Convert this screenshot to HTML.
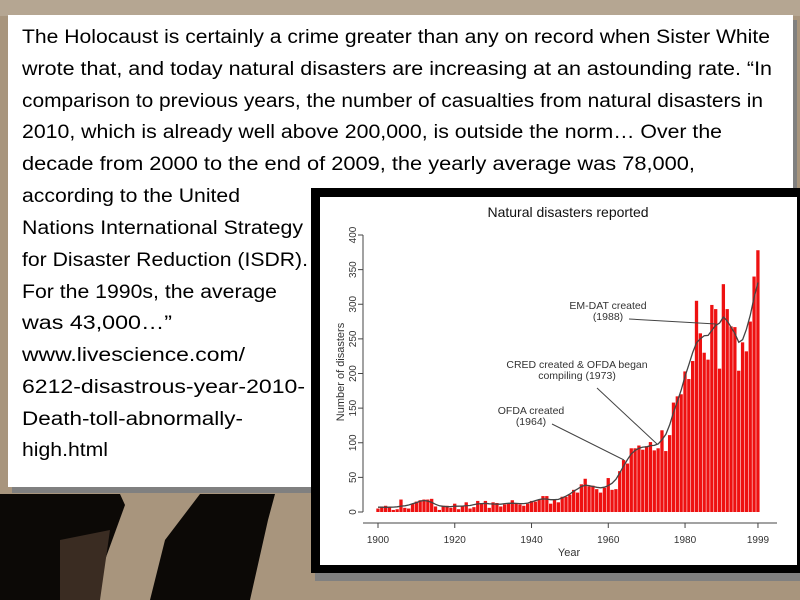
<!DOCTYPE html>
<html><head><meta charset="utf-8"><style>
html,body{margin:0;padding:0;width:800px;height:600px;overflow:hidden;background:#a8957d}
svg{display:block}
</style></head><body>
<svg id="s" width="800" height="600" xmlns="http://www.w3.org/2000/svg">
<rect x="0" y="0" width="800" height="600" fill="#a8957d"/>
<rect x="0" y="0" width="800" height="16" fill="#b5a692"/>
<path d="M0 494 L40 494 L120 494 L125 505 L105 560 L80 600 L0 600 Z" fill="#0c0906"/>
<path d="M60 540 L110 530 L100 600 L60 600Z" fill="#3a2c22"/>
<path d="M200 494 L275 494 L268 520 L250 600 L150 600 L165 540 Z" fill="#0c0906"/>
<!-- text box -->
<rect x="12" y="20" width="785" height="473" fill="#808080"/>
<rect x="8" y="15" width="785" height="472" fill="#fff"/>
<g font-family="Liberation Sans, sans-serif" font-size="19" fill="#000">
<text x="22" y="43" textLength="748" lengthAdjust="spacingAndGlyphs">The Holocaust is certainly a crime greater than any on record when Sister White</text>
<text x="22" y="75" textLength="750" lengthAdjust="spacingAndGlyphs">wrote that, and today natural disasters are increasing at an astounding rate. “In</text>
<text x="22" y="107" textLength="741" lengthAdjust="spacingAndGlyphs">comparison to previous years, the number of casualties from natural disasters in</text>
<text x="22" y="138" textLength="700" lengthAdjust="spacingAndGlyphs">2010, which is already well above 200,000, is outside the norm… Over the</text>
<text x="22" y="170" textLength="673" lengthAdjust="spacingAndGlyphs">decade from 2000 to the end of 2009, the yearly average was 78,000,</text>
<text x="22" y="202" textLength="218" lengthAdjust="spacingAndGlyphs">according to the United</text>
<text x="22" y="234" textLength="281" lengthAdjust="spacingAndGlyphs">Nations International Strategy</text>
<text x="22" y="266" textLength="286" lengthAdjust="spacingAndGlyphs">for Disaster Reduction (ISDR).</text>
<text x="22" y="298" textLength="255" lengthAdjust="spacingAndGlyphs">For the 1990s, the average</text>
<text x="22" y="329" textLength="150" lengthAdjust="spacingAndGlyphs">was 43,000…”</text>
<text x="22" y="361" textLength="223" lengthAdjust="spacingAndGlyphs">www.livescience.com/</text>
<text x="22" y="393" textLength="283" lengthAdjust="spacingAndGlyphs">6212-disastrous-year-2010-</text>
<text x="22" y="425" textLength="221" lengthAdjust="spacingAndGlyphs">Death-toll-abnormally-</text>
<text x="22" y="456" textLength="86" lengthAdjust="spacingAndGlyphs">high.html</text>
</g>
<!-- chart frame -->
<rect x="315" y="192" width="485" height="389" fill="#808080"/>
<rect x="311" y="188" width="489" height="385" fill="#000"/>
<rect x="320" y="197" width="477" height="368" fill="#fff"/>
<g id="bars"></g>
<polyline id="sm" fill="none" stroke="#444" stroke-width="1.3"/>
<g stroke="#444" stroke-width="1" fill="none">
<line x1="363" y1="235" x2="363" y2="512"/>
<line x1="363" y1="523" x2="777" y2="523"/>
<g id="ticks"></g>
<line x1="629" y1="319" x2="716" y2="324"/>
<line x1="597" y1="388" x2="657" y2="444"/>
<line x1="552" y1="424" x2="624" y2="460"/>
</g>
<g font-family="Liberation Sans, sans-serif" fill="#333">
<text x="568" y="217" font-size="14" text-anchor="middle" fill="#111">Natural disasters reported</text>
<text transform="translate(344,372) rotate(-90)" font-size="11" text-anchor="middle">Number of disasters</text>
<text x="569" y="556" font-size="11" text-anchor="middle">Year</text>
<g font-size="10.5" text-anchor="middle">
<text x="608" y="309">EM-DAT created</text><text x="608" y="320">(1988)</text>
<text x="577" y="368">CRED created &amp; OFDA began</text><text x="577" y="379">compiling (1973)</text>
<text x="531" y="414">OFDA created</text><text x="531" y="425">(1964)</text>
</g>
<g id="lbl" font-size="10" text-anchor="middle"></g>
</g>
</svg>
<script>
var d=[5,8,9,7,3,4,18,6,5,12,15,17,18,18,19,8,3,9,9,6,12,4,9,14,5,7,16,13,16,6,14,13,8,11,13,17,12,11,9,12,16,15,18,23,23,12,18,14,22,22,25,32,28,40,48,37,38,33,28,35,49,32,33,59,75,70,92,92,96,90,95,101,89,92,118,88,111,158,167,170,203,192,218,305,258,230,220,299,293,207,329,293,268,267,204,245,232,275,340,378];
var NS="http://www.w3.org/2000/svg";
function X(i){return 378+i*3.838;}function Y(v){return 512-v*0.6925;}
var g=document.getElementById('bars');
d.forEach(function(v,i){var r=document.createElementNS(NS,'rect');r.setAttribute('x',X(i)-1.7);r.setAttribute('width',3.3);r.setAttribute('y',Y(v));r.setAttribute('height',v*0.6925);r.setAttribute('fill','#ee1111');g.appendChild(r);});
var pts=[];for(var i=0;i<100;i++){var s=0,w=0;for(var k=-3;k<=3;k++){var j=i+k;if(j>=0&&j<100){var ww=4-Math.abs(k);s+=d[j]*ww;w+=ww;}}pts.push(X(i).toFixed(1)+','+Y(s/w).toFixed(1));}
document.getElementById('sm').setAttribute('points',pts.join(' '));
var t=document.getElementById('ticks'),l=document.getElementById('lbl');
for(var v=0;v<=400;v+=50){var y=Y(v);var ln=document.createElementNS(NS,'line');ln.setAttribute('x1',358);ln.setAttribute('x2',363);ln.setAttribute('y1',y);ln.setAttribute('y2',y);t.appendChild(ln);
var tx=document.createElementNS(NS,'text');tx.setAttribute('transform','translate(356,'+y+') rotate(-90)');tx.textContent=v;l.appendChild(tx);}
[0,20,40,60,80,99].forEach(function(i){var x=X(i);var ln=document.createElementNS(NS,'line');ln.setAttribute('x1',x);ln.setAttribute('x2',x);ln.setAttribute('y1',523);ln.setAttribute('y2',528);t.appendChild(ln);
var tx=document.createElementNS(NS,'text');tx.setAttribute('x',x);tx.setAttribute('y',543);tx.textContent=1900+i;l.appendChild(tx);});
</script>
</body></html>
